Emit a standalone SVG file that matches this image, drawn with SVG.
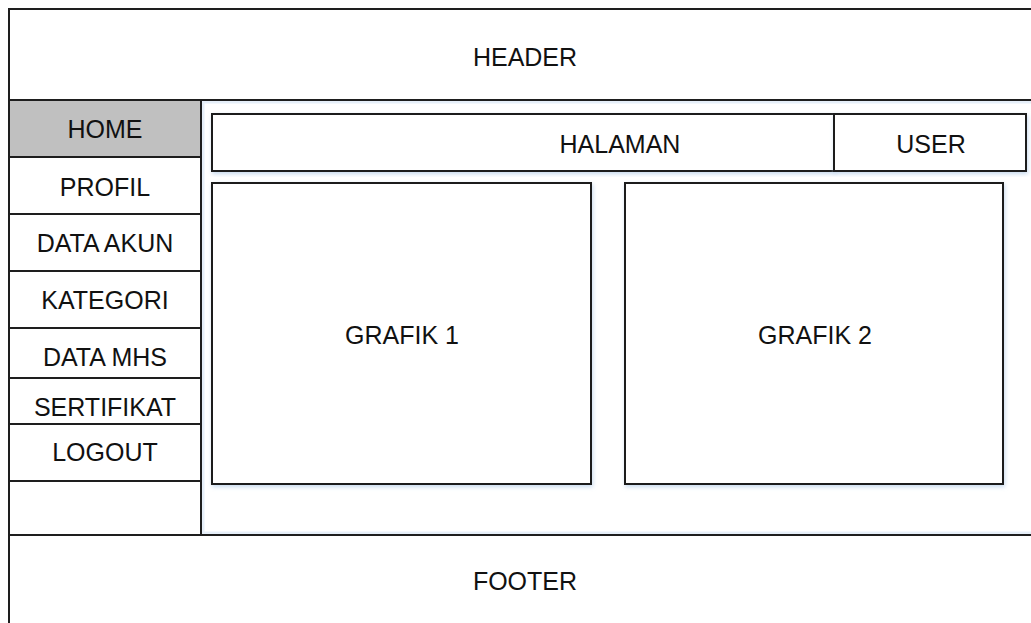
<svg xmlns="http://www.w3.org/2000/svg" width="1031" height="623" viewBox="0 0 1031 623">
<defs>
<filter id="sh" x="-5%" y="-5%" width="110%" height="115%">
<feDropShadow dx="1" dy="2" stdDeviation="2" flood-color="#b9d0ea" flood-opacity="0.8"/>
</filter>
</defs>
<style>
.b{fill:#fff;stroke:#1e1e1e;stroke-width:2}
.l{stroke:#1e1e1e;stroke-width:2;fill:none}
text{font-family:"Liberation Sans",Arial,sans-serif;font-size:25px;fill:#111;text-anchor:middle}
</style>
<rect width="1031" height="623" fill="#fff"/>
<g id="content">
<rect x="203" y="102" width="840" height="431" fill="#fff" stroke="#e6eff9" stroke-width="3"/>
</g>
<g id="frame">
<path class="l" d="M9,630 V9 H1040"/>
</g>
<g id="header">
<line class="l" x1="9" y1="100" x2="1040" y2="100"/>
<text x="525" y="66">HEADER</text>
</g>
<g id="sidebar">
<rect x="9" y="100" width="192" height="57" fill="#c0c0c0" stroke="#1e1e1e" stroke-width="2"/>
<line class="l" x1="201" y1="100" x2="201" y2="535"/>
<line class="l" x1="9" y1="214" x2="201" y2="214"/>
<line class="l" x1="9" y1="271" x2="201" y2="271"/>
<line class="l" x1="9" y1="328" x2="201" y2="328"/>
<line class="l" x1="9" y1="378" x2="201" y2="378"/>
<line class="l" x1="9" y1="424" x2="201" y2="424"/>
<line class="l" x1="9" y1="481" x2="201" y2="481"/>
</g>
<g id="menu-home"><text x="105" y="138">HOME</text></g>
<g id="menu-profil"><text x="105" y="196">PROFIL</text></g>
<g id="menu-data-akun"><text x="105" y="252">DATA AKUN</text></g>
<g id="menu-kategori"><text x="105" y="309">KATEGORI</text></g>
<g id="menu-data-mhs"><text x="105" y="366">DATA MHS</text></g>
<g id="menu-sertifikat"><text x="105" y="416">SERTIFIKAT</text></g>
<g id="menu-logout"><text x="105" y="461">LOGOUT</text></g>
<g id="halaman">
<rect class="b" x="212" y="114" width="622" height="57" filter="url(#sh)"/>
<text x="620" y="153">HALAMAN</text>
</g>
<g id="user">
<rect class="b" x="834" y="114" width="192" height="57" filter="url(#sh)"/>
<text x="931" y="153">USER</text>
</g>
<g id="grafik1">
<rect class="b" x="212" y="183" width="379" height="301" filter="url(#sh)"/>
<text x="402" y="344">GRAFIK 1</text>
</g>
<g id="grafik2">
<rect class="b" x="625" y="183" width="378" height="301" filter="url(#sh)"/>
<text x="815" y="344">GRAFIK 2</text>
</g>
<g id="footer">
<line class="l" x1="9" y1="535" x2="1040" y2="535"/>
<text x="525" y="590">FOOTER</text>
</g>
</svg>
